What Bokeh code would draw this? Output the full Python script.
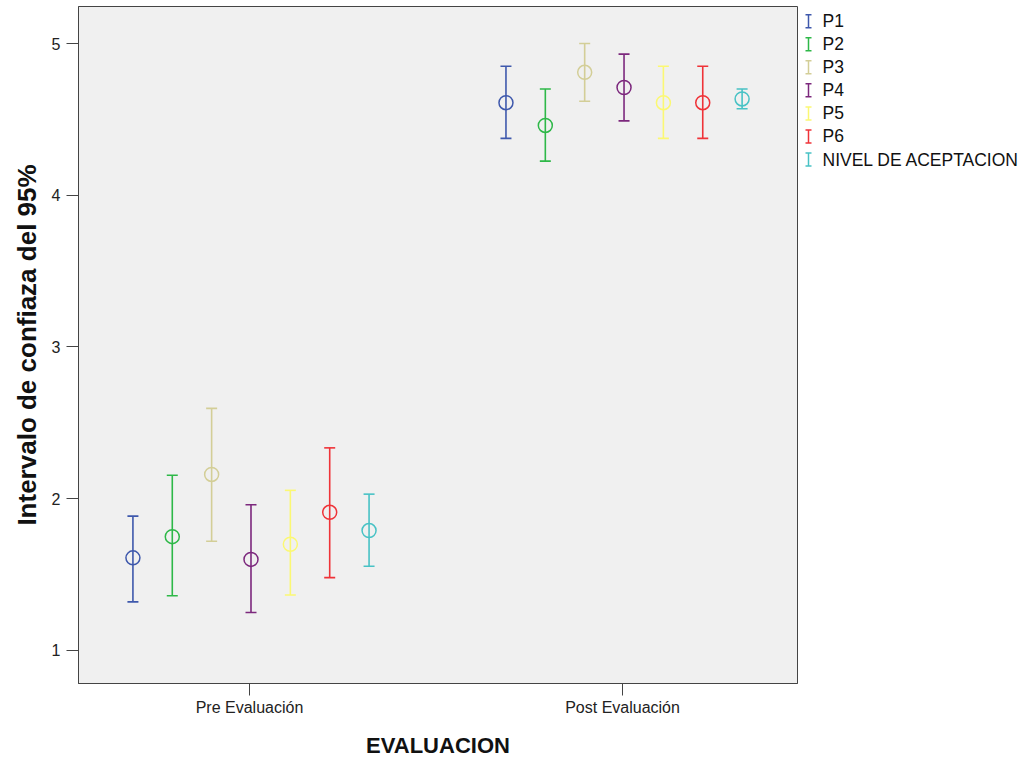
from bokeh.plotting import figure
from bokeh.models import ColumnDataSource, Whisker, TeeHead, FixedTicker, Range1d
from bokeh.layouts import row
from bokeh.core.properties import value
from bokeh.embed import file_html
from bokeh.resources import INLINE

# ---- data ----
groups = ["Pre Evaluación", "Post Evaluación"]
series = ["P1", "P2", "P3", "P4", "P5", "P6", "NIVEL DE ACEPTACION"]
colors = ["#3E58AC", "#2EB848", "#D3CE97", "#7C287D", "#FBF873", "#EF3338", "#48C2C5"]

means_pre = [1.61, 1.75, 2.16, 1.60, 1.70, 1.91, 1.79]
lower_pre = [1.32, 1.36, 1.72, 1.25, 1.365, 1.48, 1.555]
upper_pre = [1.885, 2.155, 2.595, 1.96, 2.055, 2.335, 2.03]

means_post = [4.61, 4.46, 4.81, 4.71, 4.61, 4.61, 4.635]
lower_post = [4.375, 4.225, 4.62, 4.49, 4.375, 4.375, 4.57]
upper_post = [4.85, 4.70, 5.0, 4.93, 4.85, 4.85, 4.70]

y_ticks = [1, 2, 3, 4, 5]

FONT = "Liberation Sans"
step = 0.1055

p = figure(width=800, height=760, output_backend="svg", toolbar_location=None,
           x_range=Range1d(0.5416, 2.469), y_range=Range1d(0.782, 5.244),
           min_border_left=78, min_border_right=3, min_border_top=6, min_border_bottom=10)
p.background_fill_color = "#F0F0F0"
p.border_fill_color = "white"
p.outline_line_color = "#444444"
p.outline_line_width = 1
p.xgrid.visible = False
p.ygrid.visible = False

for i, name in enumerate(series):
    off = (i - 3) * step + 0.004
    src = ColumnDataSource(dict(
        x=[1 + off, 2 + off],
        m=[means_pre[i], means_post[i]],
        lo=[lower_pre[i], lower_post[i]],
        hi=[upper_pre[i], upper_post[i]],
    ))
    w = Whisker(base="x", lower="lo", upper="hi", source=src, dimension="height",
                line_color=colors[i], line_width=1.6,
                upper_head=TeeHead(size=11, line_color=colors[i], line_width=1.6),
                lower_head=TeeHead(size=11, line_color=colors[i], line_width=1.6))
    p.add_layout(w)
    p.scatter("x", "m", source=src, size=14, marker="circle", fill_color=None,
              line_color=colors[i], line_width=1.5)

p.xaxis.ticker = FixedTicker(ticks=[1, 2])
p.xaxis.major_label_overrides = {1: groups[0], 2: groups[1]}
p.xaxis.minor_tick_line_color = None
p.xaxis.axis_label = "EVALUACION"
p.yaxis.ticker = FixedTicker(ticks=y_ticks)
p.yaxis.minor_tick_line_color = None
p.yaxis.axis_label = "Intervalo de confiaza del 95%"

for ax in (p.xaxis[0], p.yaxis[0]):
    ax.axis_line_color = "#444444"
    ax.major_tick_line_color = "#444444"
    ax.major_tick_in = 0
    ax.major_tick_out = 12
    ax.major_label_text_font = FONT
    ax.major_label_text_font_size = "16px"
    ax.major_label_text_color = "#222222"
    ax.axis_label_text_font = FONT
    ax.axis_label_text_font_style = "bold"
    ax.axis_label_text_color = "#111111"
p.xaxis.axis_label_text_font_size = "22px"
p.yaxis.axis_label_text_font_size = "26px"
p.xaxis.major_label_standoff = 3
p.xaxis.axis_label_standoff = 14
p.yaxis.major_label_standoff = 6
p.yaxis.axis_label_standoff = 7

# ---- legend as separate panel (frame aligned with main plot frame: 6..683 px) ----
leg = figure(width=229, height=760, output_backend="svg", toolbar_location=None,
             x_range=Range1d(0, 229), y_range=Range1d(683, 6),
             x_axis_location=None, y_axis_location=None, min_border=0)
leg.grid.visible = False
leg.outline_line_color = None
leg.background_fill_color = "white"
leg.border_fill_color = "white"

row_y = [20.7 + 23.05 * k for k in range(len(series))]
icon_x = [8] * len(series)
lsrc = ColumnDataSource(dict(x=icon_x, y=row_y, name=series, c=colors,
                             y0=[v - 6.5 for v in row_y], y1=[v + 6.5 for v in row_y],
                             xl=[v - 3 for v in icon_x], xr=[v + 3 for v in icon_x],
                             tx=[22] * len(series)))
leg.segment(x0="x", y0="y0", x1="x", y1="y1", source=lsrc, line_color="c", line_width=1.5)
leg.segment(x0="xl", y0="y0", x1="xr", y1="y0", source=lsrc, line_color="c", line_width=1.5)
leg.segment(x0="xl", y0="y1", x1="xr", y1="y1", source=lsrc, line_color="c", line_width=1.5)
leg.text(x="tx", y="y", text="name", source=lsrc, text_font=value(FONT),
         text_font_size="17.5px", text_baseline="middle", text_color="#111111")

layout = row(p, leg)
open("out.html", "w").write(file_html(layout, INLINE))
